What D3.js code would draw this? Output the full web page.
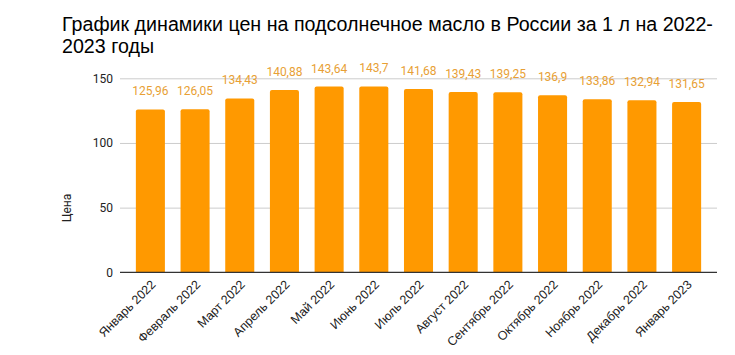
<!DOCTYPE html>
<html><head><meta charset="utf-8">
<script src="https://cdn.jsdelivr.net/npm/d3@7"></script>
<style>body{margin:0;background:#fff}svg{display:block}</style>
</head><body>
<svg id="c" width="735" height="355"></svg>
<script>
const categories = ["Январь 2022","Февраль 2022","Март 2022","Апрель 2022","Май 2022","Июнь 2022","Июль 2022","Август 2022","Сентябрь 2022","Октябрь 2022","Ноябрь 2022","Декабрь 2022","Январь 2023"];
const values = [125.96,126.05,134.43,140.88,143.64,143.7,141.68,139.43,139.25,136.9,133.86,132.94,131.65];
const valueLabels = ["125,96","126,05","134,43","140,88","143,64","143,7","141,68","139,43","139,25","136,9","133,86","132,94","131,65"];
const yTicks = [0,50,100,150];
const titleLines = ["График динамики цен на подсолнечное масло в России за 1 л на 2022-","2023 годы"];
const yTitle = "Цена";

const svg = d3.select("#c");
const font = "Roboto, Arial, sans-serif";
const L = 120, R = 717, T = 78.3, B = 272.3;
const x = d3.scaleBand().domain(categories).range([L, R]).paddingInner(0.35).paddingOuter(0.355);
const y = d3.scaleLinear().domain([0,150]).range([B, T]);

const tg = svg.append("g");
const tt = tg.selectAll("text").data(titleLines).join("text")
  .attr("x", 0).attr("y", (d,i)=>31+i*22.5)
  .attr("font-family", "'Liberation Sans', Arial, sans-serif").attr("font-size", 20).attr("fill", "#000").text(d=>d);
const w0 = tt.nodes()[0].getComputedTextLength();
tg.attr("transform", `translate(62,0) scale(${651/w0},1)`);

// grid
const yAxis = d3.axisLeft(y).tickValues(yTicks).tickSize(-(R-L)).tickFormat(d3.format("d"));
const gy = svg.append("g").attr("transform", `translate(${L},0)`).call(yAxis);
gy.select(".domain").remove();
gy.selectAll(".tick line").attr("stroke", d=>d===0?"none":"#cccccc").attr("stroke-width",1);
gy.selectAll(".tick text").attr("x",-7).attr("font-family",font).attr("font-size",12).attr("fill","#222");

// bars
const bw = x.bandwidth(), rr = 2;
svg.append("g").selectAll("path").data(values).join("path")
  .attr("fill","#ff9900")
  .attr("d",(d,i)=>{
    const x0 = x(categories[i]), y0 = y(d), y1 = y(0);
    return `M${x0},${y1}V${y0+rr}Q${x0},${y0} ${x0+rr},${y0}H${x0+bw-rr}Q${x0+bw},${y0} ${x0+bw},${y0+rr}V${y1}Z`;
  });

// zero axis
svg.append("line").attr("x1",L).attr("x2",R).attr("y1",y(0)).attr("y2",y(0)).attr("stroke","#333").attr("stroke-width",1.2);

// value labels
svg.append("g").selectAll("text").data(values).join("text")
  .attr("x",(d,i)=>x(categories[i])+bw/2).attr("y",d=>y(d)-14)
  .attr("text-anchor","middle").attr("font-family",font).attr("font-size",12).attr("fill","#e89f35")
  .text((d,i)=>valueLabels[i]);

// x labels
const xAxis = d3.axisBottom(x).tickSize(0);
const gx = svg.append("g").attr("transform",`translate(0,${B})`).call(xAxis);
gx.select(".domain").remove();
gx.selectAll(".tick text").attr("font-family","'Liberation Sans', Arial, sans-serif").attr("font-size",12.5).attr("fill","#222")
  .attr("text-anchor","end").attr("dy",0).attr("y",0)
  .attr("transform","translate(6,13) rotate(-45)");

// y title
svg.append("text").attr("transform","translate(71,208) rotate(-90)")
  .attr("text-anchor","middle").attr("font-family",font).attr("font-size",12).attr("fill","#222").text(yTitle);
</script>
</body></html>
